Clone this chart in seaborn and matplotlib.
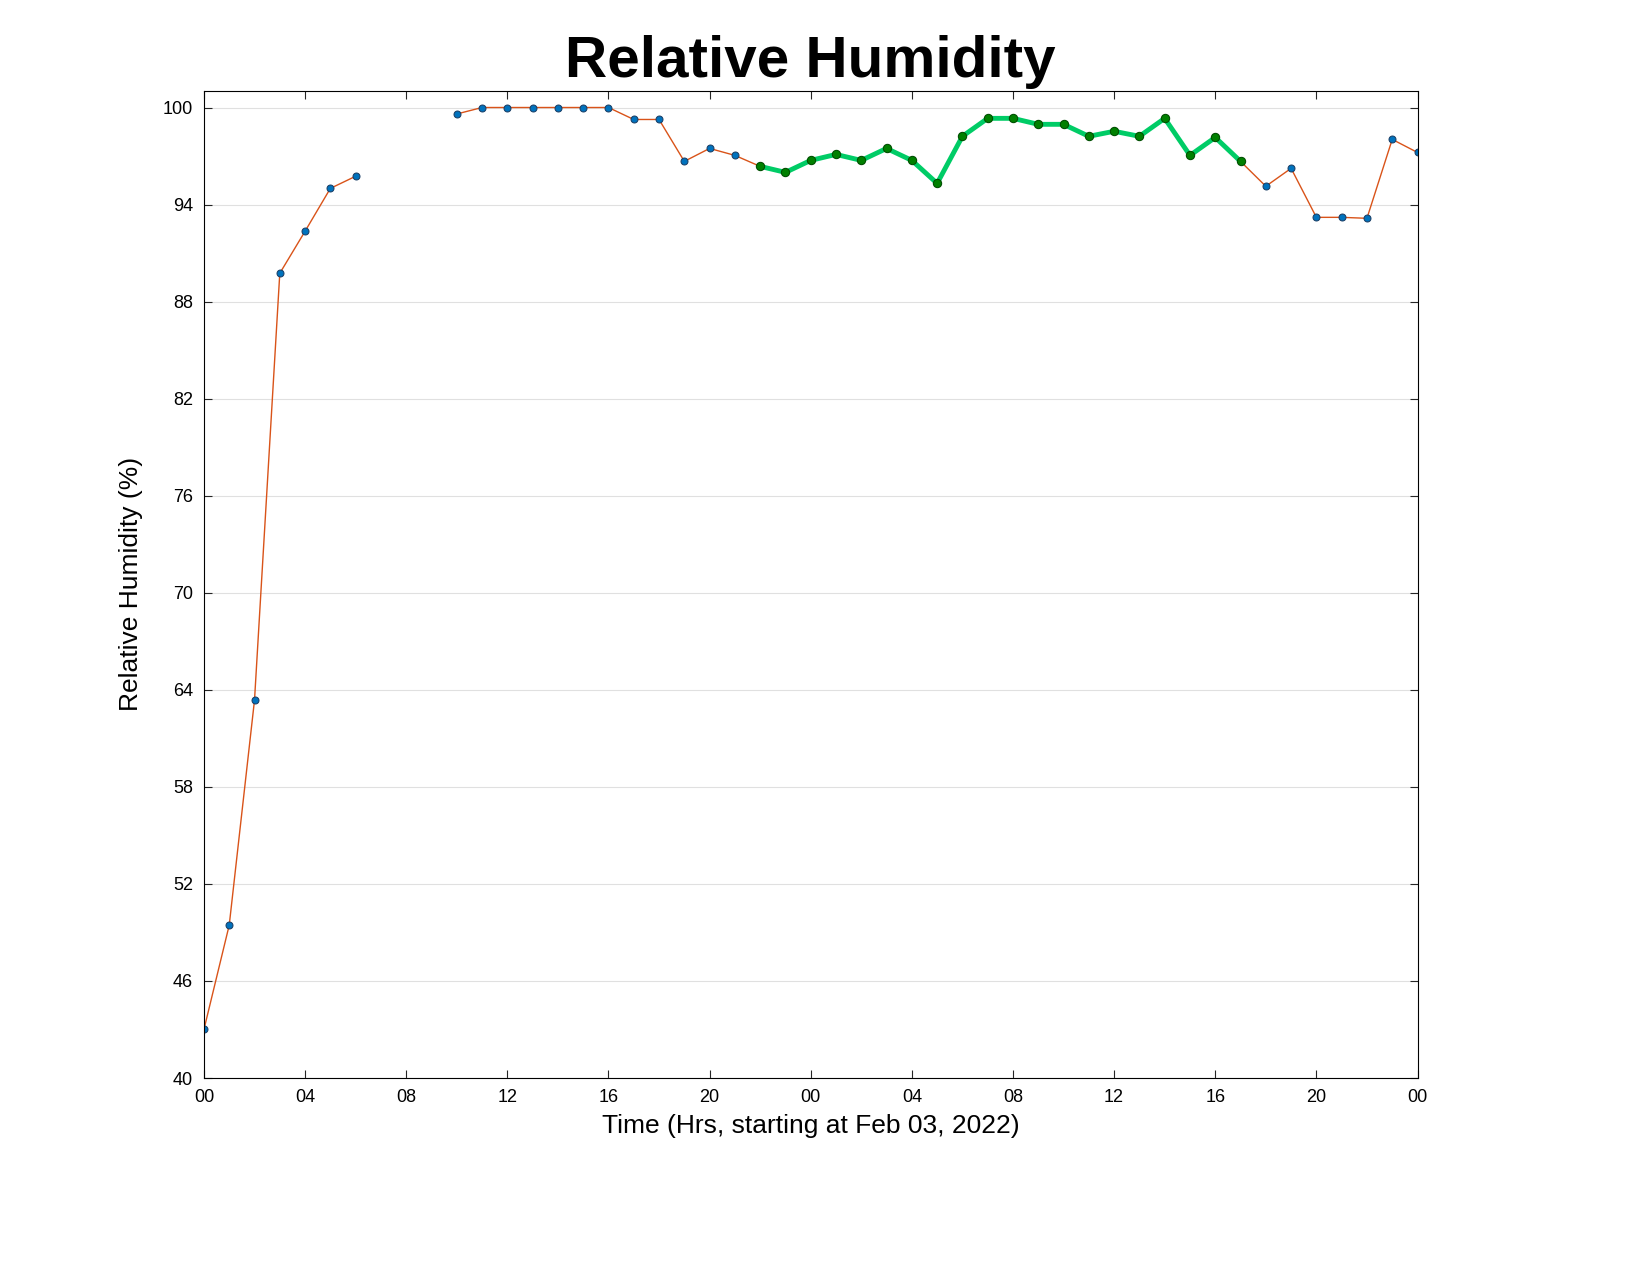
import numpy as np
import seaborn as sns
import matplotlib.pyplot as plt

hours = list(range(49))
rh = [43.0, 49.45, 63.36, 89.75, 92.35, 95.0, 95.75, np.nan, np.nan, np.nan,
      99.6, 100, 100, 100, 100, 100, 100, 99.26, 99.26, 96.67,
      97.47, 97.04, 96.36, 95.99, 96.73, 97.1, 96.73, 97.47, 96.73, 95.31,
      98.22, 99.33, 99.33, 98.96, 98.96, 98.22, 98.53, 98.22, 99.33, 97.04,
      98.15, 96.67, 95.13, 96.24, 93.21, 93.21, 93.15, 98.03, 97.22]
green_start, green_end = 22, 41
tick_labels = ['00', '04', '08', '12', '16', '20'] * 2 + ['00']

sns.set_style('ticks')
plt.rcParams['font.family'] = ['Liberation Sans', 'DejaVu Sans']
plt.rcParams['text.color'] = 'black'
plt.rcParams['axes.labelcolor'] = 'black'
fig = plt.figure(figsize=(16.5, 12.75), dpi=100)
ax = fig.add_axes([0.1236, 0.1545, 0.7355, 0.7745])

# split at the missing hours so the line has a gap
segments = [(0, 7), (10, 49)]
for a, b in segments:
    sns.lineplot(x=hours[a:b], y=rh[a:b], ax=ax, color='#D95319', linewidth=1,
                 marker='o', markersize=5, markerfacecolor='#0072BD',
                 markeredgecolor='#1a3f66')
gx = hours[green_start:green_end + 1]
gy = rh[green_start:green_end + 1]
sns.lineplot(x=gx, y=gy, ax=ax, color='#00CC66', linewidth=3.5, marker='o',
             markersize=6, markerfacecolor='#008000', markeredgecolor='#004d00')

ax.set_xlim(0, 48)
ax.set_ylim(40, 101.05)
ax.set_xticks(range(0, 49, 4))
ax.set_xticklabels(tick_labels)
ax.set_yticks(range(40, 101, 6))
ax.yaxis.grid(True, color='#e0e0e0', linewidth=0.8)
ax.tick_params(direction='in', labelsize=13, length=6, top=True, right=True,
               pad=8, labelcolor='black')
for s in ax.spines.values():
    s.set_linewidth(0.8)
    s.set_color('black')
ax.set_xlabel('Time (Hrs, starting at Feb 03, 2022)', fontsize=19, labelpad=6)
ax.set_ylabel('Relative Humidity (%)', fontsize=19, labelpad=14)
ax.set_title('Relative Humidity', fontsize=42, fontweight='bold', pad=10,
             color='black')
fig.savefig('out.png')
